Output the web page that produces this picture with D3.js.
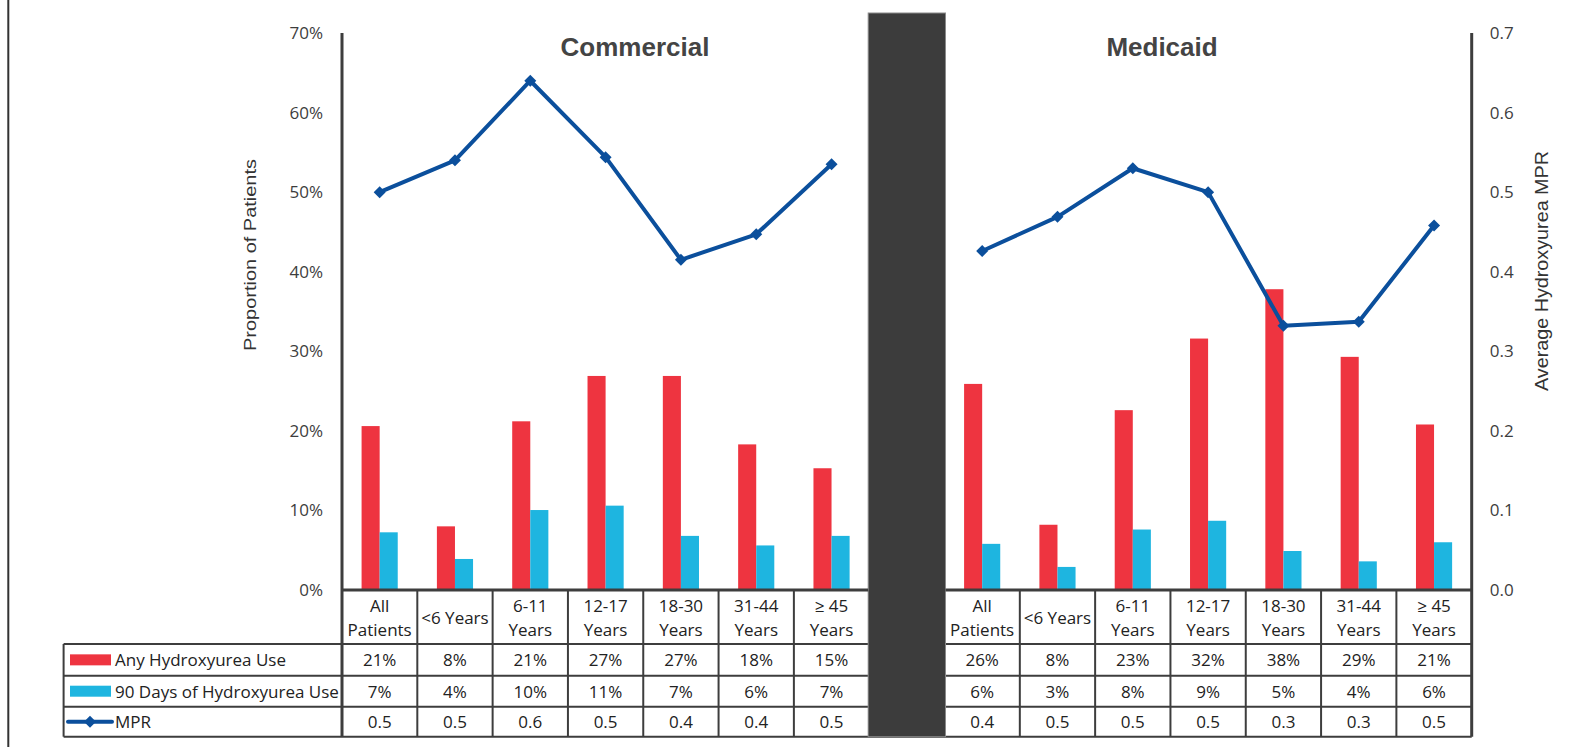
<!DOCTYPE html>
<html>
<head>
<meta charset="utf-8">
<script src="https://cdn.jsdelivr.net/npm/d3@7"></script>
<style>
  html, body { margin: 0; padding: 0; background: #fff; }
  svg { display: block; }
  text { font-family: "Open Sans", "Noto Sans", sans-serif; }
</style>
</head>
<body>
<svg id="chart" width="1580" height="747"></svg>
<script>
// Age groups shown for each payer
const categories = ["All Patients", "<6 Years", "6-11 Years", "12-17 Years", "18-30 Years", "31-44 Years", "≥ 45 Years"];
const headerLabels = [["All", "Patients"], ["<6 Years"], ["6-11", "Years"], ["12-17", "Years"], ["18-30", "Years"], ["31-44", "Years"], ["≥ 45", "Years"]];
const segments = ["Commercial", "Medicaid"];

// Proportion of patients with any hydroxyurea use
const commercialAny = [0.206, 0.080, 0.212, 0.269, 0.269, 0.183, 0.153];
const medicaidAny   = [0.259, 0.082, 0.226, 0.316, 0.378, 0.293, 0.208];
// Proportion of patients with 90 days of hydroxyurea use
const commercialDays90 = [0.0725, 0.039, 0.1005, 0.106, 0.068, 0.056, 0.068];
const medicaidDays90   = [0.058, 0.029, 0.076, 0.087, 0.049, 0.036, 0.060];
// Average medication possession ratio
const commercialMPR = [0.500, 0.540, 0.640, 0.544, 0.415, 0.447, 0.535];
const medicaidMPR   = [0.426, 0.469, 0.530, 0.500, 0.332, 0.337, 0.458];

const leftTicks  = [0, 0.1, 0.2, 0.3, 0.4, 0.5, 0.6, 0.7];
const rightTicks = [0, 0.1, 0.2, 0.3, 0.4, 0.5, 0.6, 0.7];

const seriesNames = ["Any Hydroxyurea Use", "90 Days of Hydroxyurea Use", "MPR"];

const RED = "#EE3440", CYAN = "#1EB5E0", NAVY = "#0B4F9C", INK = "#3d3d3d";

const bySegment = {
  Commercial: { any: commercialAny, d90: commercialDays90, mpr: commercialMPR },
  Medicaid:   { any: medicaidAny,   d90: medicaidDays90,   mpr: medicaidMPR }
};

const svg = d3.select("#chart");

// Layout
const plotLeft = 342, plotRight = 1471.7, plotTop = 33, baseY = 590;
const rowLines = [644, 675.7, 706.7, 736.7];
const legendLeft = 63.6;
const FS = "17px";

// One slot per age group, plus a spacer slot between the two payers
const slots = [];
segments.forEach((s, si) => {
  categories.forEach(c => slots.push(s + "|" + c));
  if (si === 0) slots.push("gap");
});

const x = d3.scaleBand().domain(slots).range([plotLeft, plotRight]).padding(0);
const yLeft = d3.scaleLinear().domain([0, 0.7]).range([baseY, plotTop]);
const yRight = d3.scaleLinear().domain([0, 0.7]).range([baseY, plotTop]);

const bw = x.bandwidth();
const barW = bw * 0.24;

// Page border on the far left
svg.append("line").attr("x1", 8.3).attr("x2", 8.3).attr("y1", 0).attr("y2", 747)
  .attr("stroke", "#333").attr("stroke-width", 2);

// Bars
segments.forEach(seg => {
  const d = bySegment[seg];
  const g = svg.append("g");
  categories.forEach((c, i) => {
    const cx = x(seg + "|" + c) + bw / 2;
    g.append("rect").attr("x", cx - barW).attr("width", barW)
      .attr("y", yLeft(d.any[i])).attr("height", baseY - yLeft(d.any[i])).attr("fill", RED);
    g.append("rect").attr("x", cx).attr("width", barW)
      .attr("y", yLeft(d.d90[i])).attr("height", baseY - yLeft(d.d90[i])).attr("fill", CYAN);
  });
});

// MPR lines with diamond markers
const line = d3.line().x(d => d[0]).y(d => d[1]);
const diamond = d3.symbol().type(d3.symbolSquare).size(72);
segments.forEach(seg => {
  const pts = categories.map((c, i) => [x(seg + "|" + c) + bw / 2, yRight(bySegment[seg].mpr[i])]);
  svg.append("path").attr("d", line(pts)).attr("fill", "none")
    .attr("stroke", NAVY).attr("stroke-width", 4).attr("stroke-linejoin", "round");
  svg.append("g").selectAll("path").data(pts).join("path")
    .attr("d", diamond)
    .attr("transform", d => `translate(${d[0]},${d[1]}) rotate(45)`)
    .attr("fill", NAVY);
});

// Axes
const leftAxis = d3.axisLeft(yLeft).tickValues(leftTicks).tickFormat(d3.format(".0%"))
  .tickSize(0).tickPadding(19);
const gL = svg.append("g").attr("transform", `translate(${plotLeft},0)`).call(leftAxis);
gL.select(".domain").remove();
gL.selectAll("text").style("font-family", "'Open Sans', sans-serif").style("font-size", FS).attr("fill", INK);

const rightAxis = d3.axisRight(yRight).tickValues(rightTicks).tickFormat(d3.format(".1f"))
  .tickSize(0).tickPadding(18);
const gR = svg.append("g").attr("transform", `translate(${plotRight},0)`).call(rightAxis);
gR.select(".domain").remove();
gR.selectAll("text").style("font-family", "'Open Sans', sans-serif").style("font-size", FS).attr("fill", INK);

// Axis titles
svg.append("text")
  .attr("transform", `translate(250,255) rotate(-90)`)
  .attr("text-anchor", "middle").attr("dominant-baseline", "central")
  .style("font-family", "'Liberation Sans', Arial, sans-serif").style("font-size", "17px")
  .attr("textLength", 192).attr("lengthAdjust", "spacingAndGlyphs")
  .attr("fill", "#333").text("Proportion of Patients");
svg.append("text")
  .attr("transform", `translate(1541.7,271) rotate(-90)`)
  .attr("text-anchor", "middle").attr("dominant-baseline", "central")
  .style("font-family", "'Liberation Sans', Arial, sans-serif").style("font-size", "18px")
  .attr("textLength", 240).attr("lengthAdjust", "spacingAndGlyphs")
  .attr("fill", "#333").text("Average Hydroxyurea MPR");

// Segment titles
const titleX = { Commercial: 635, Medicaid: 1162 };
segments.forEach(seg => {
  svg.append("text").attr("x", titleX[seg]).attr("y", 56).attr("text-anchor", "middle")
    .style("font-family", "'Liberation Sans', Arial, sans-serif").style("font-size", "26px")
    .style("font-weight", "bold").attr("fill", "#444").text(seg);
});

// Data table
const tbl = svg.append("g");
const rowCenters = [(rowLines[0] + rowLines[1]) / 2, (rowLines[1] + rowLines[2]) / 2, (rowLines[2] + rowLines[3]) / 2];
const headerCenter = (baseY + rowLines[0]) / 2;
const pct = d3.format(".0%"), dec = d3.format(".1f");

segments.forEach(seg => {
  const d = bySegment[seg];
  categories.forEach((c, i) => {
    const cx = x(seg + "|" + c) + bw / 2;
    const lines = headerLabels[i];
    const t = tbl.append("text").attr("x", cx).attr("text-anchor", "middle")
      .style("font-size", FS).attr("fill", "#222");
    if (lines.length === 1) {
      t.attr("y", headerCenter).attr("dominant-baseline", "central").text(lines[0]);
    } else {
      t.append("tspan").attr("x", cx).attr("y", headerCenter - 12).attr("dominant-baseline", "central").text(lines[0]);
      t.append("tspan").attr("x", cx).attr("y", headerCenter + 12).attr("dominant-baseline", "central").text(lines[1]);
    }
    const vals = [pct(d.any[i]), pct(d.d90[i]), dec(d.mpr[i])];
    vals.forEach((v, r) => {
      tbl.append("text").attr("x", cx).attr("y", rowCenters[r]).attr("text-anchor", "middle")
        .attr("dominant-baseline", "central").style("font-size", FS).attr("fill", "#222").text(v);
    });
  });
});

// Legend column of the table
const legendTextX = 115;
seriesNames.forEach((name, r) => {
  const cy = rowCenters[r];
  if (r === 0 || r === 1) {
    tbl.append("rect").attr("x", 70).attr("y", cy - 5.5).attr("width", 41).attr("height", 11)
      .attr("fill", r === 0 ? RED : CYAN);
  } else {
    tbl.append("line").attr("x1", 68).attr("x2", 112).attr("y1", cy).attr("y2", cy)
      .attr("stroke", NAVY).attr("stroke-width", 4).attr("stroke-linecap", "round");
    tbl.append("path").attr("d", diamond).attr("transform", `translate(90,${cy}) rotate(45)`).attr("fill", NAVY);
  }
  tbl.append("text").attr("x", legendTextX).attr("y", cy).attr("dominant-baseline", "central")
    .style("font-size", FS).attr("fill", "#222").text(name);
});

// Table grid lines
const grid = svg.append("g").attr("stroke", INK).attr("stroke-width", 2);
rowLines.forEach(yv => {
  grid.append("line").attr("x1", legendLeft).attr("x2", plotRight).attr("y1", yv).attr("y2", yv);
});
grid.append("line").attr("x1", legendLeft).attr("x2", legendLeft).attr("y1", rowLines[0]).attr("y2", rowLines[3]);
slots.forEach(s => {
  const xv = x(s);
  if (xv > plotLeft) grid.append("line").attr("x1", xv).attr("x2", xv).attr("y1", baseY).attr("y2", rowLines[3]);
});

// Spacer column between payers
const gx = x("gap");
svg.append("rect").attr("x", gx - 1).attr("y", 13).attr("width", bw + 2).attr("height", rowLines[3] - 13)
  .attr("fill", "#3c3c3c").attr("stroke", "#8a8a8a").attr("stroke-width", 1);

// Axis lines (drawn last so they sit on top)
const axes = svg.append("g").attr("stroke", INK).attr("stroke-width", 3);
axes.append("line").attr("x1", plotLeft).attr("x2", plotLeft).attr("y1", plotTop).attr("y2", rowLines[3]);
axes.append("line").attr("x1", plotRight).attr("x2", plotRight).attr("y1", plotTop).attr("y2", rowLines[3]);
axes.append("line").attr("x1", plotLeft).attr("x2", gx - 1).attr("y1", baseY).attr("y2", baseY);
axes.append("line").attr("x1", gx + bw + 1).attr("x2", plotRight).attr("y1", baseY).attr("y2", baseY);
</script>
</body>
</html>
